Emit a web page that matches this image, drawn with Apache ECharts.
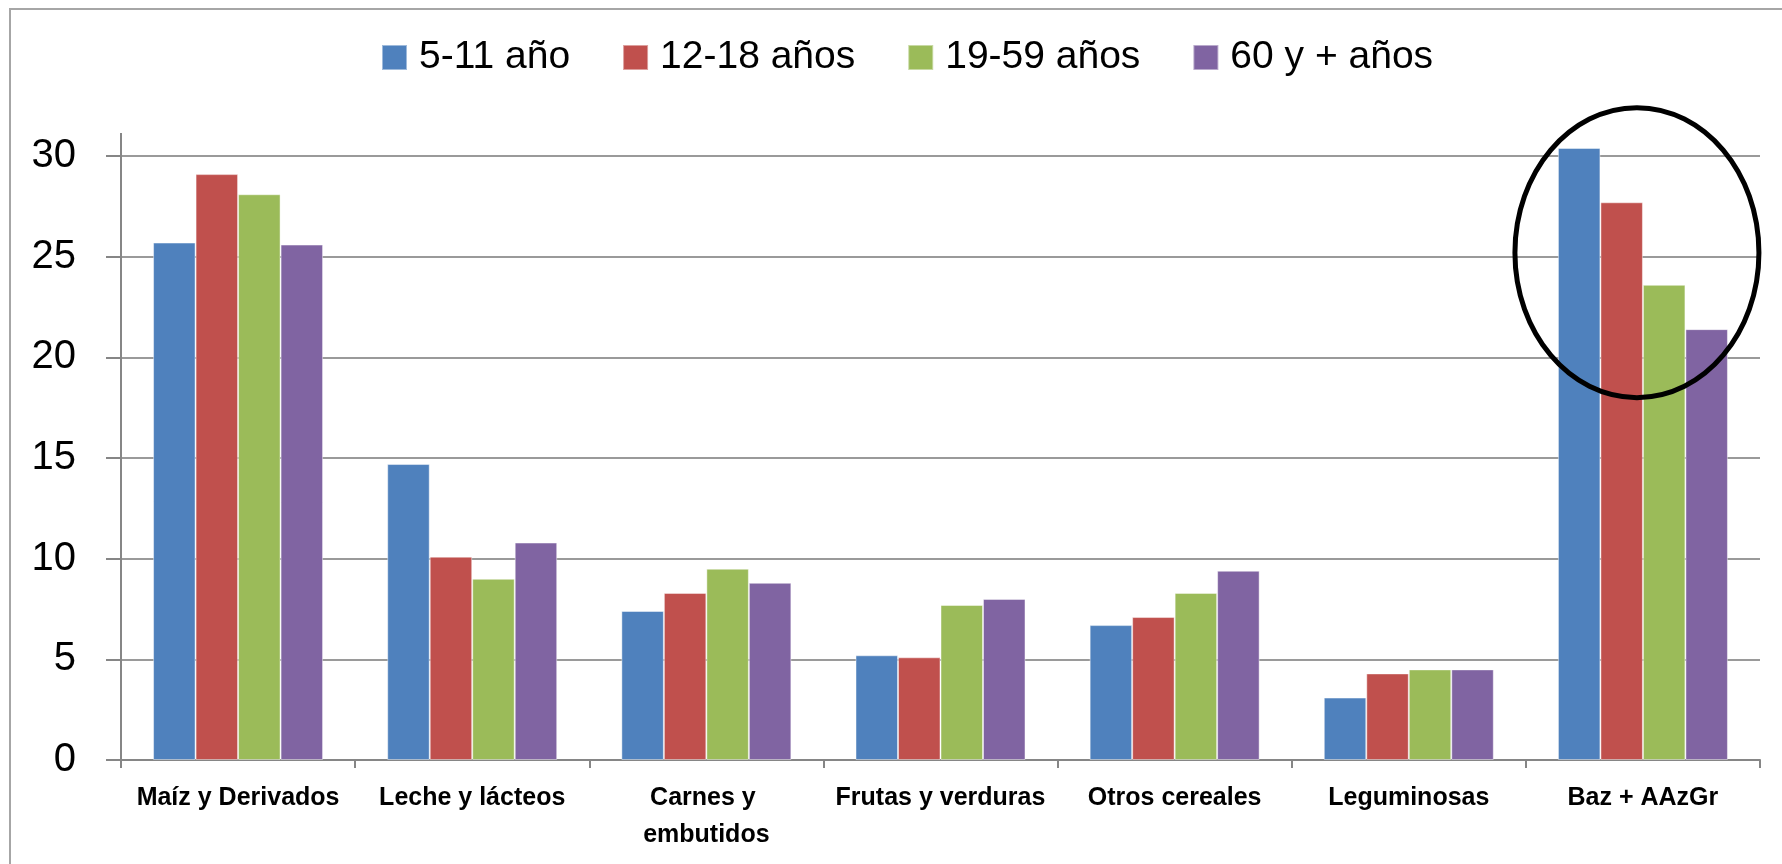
<!DOCTYPE html>
<html>
<head>
<meta charset="utf-8">
<script src="https://cdn.jsdelivr.net/npm/echarts@6/dist/echarts.min.js"></script>
<style>
	html,body{margin:0;padding:0;background:#fff;}
	#grupos_chart{width:1782px;height:864px;}
</style>
</head>
<body>
<div id="grupos_chart"></div>
<script>
var categorias = ['Maíz y Derivados', 'Leche y lácteos', 'Carnes y embutidos', 'Frutas y verduras', 'Otros cereales', 'Leguminosas', 'Baz + AAzGr'];
var grupos = ['5-11 año', '12-18 años', '19-59 años', '60 y + años'];
var edad5a11 = [25.7, 14.7, 7.4, 5.2, 6.7, 3.1, 30.4];
var edad12a18 = [29.1, 10.1, 8.3, 5.1, 7.1, 4.3, 27.7];
var edad19a59 = [28.1, 9.0, 9.5, 7.7, 8.3, 4.5, 23.6];
var edad60 = [25.6, 10.8, 8.8, 8.0, 9.4, 4.5, 21.4];
var ticksY = [0, 5, 10, 15, 20, 25, 30];

var colores = ['#4F81BD', '#C0504D', '#9BBB59', '#8064A2'];
var gris = '#868686';
var fuente = '"Liberation Sans", Arial, sans-serif';
var gridLeft = 121;

var myChart = echarts.init(document.getElementById('grupos_chart'));

function serie(nombre, datos, color){
	return {
		name: nombre,
		type: 'bar',
		data: datos,
		clip: false,
		barGap: '0%',
		barCategoryGap: '27.4%',
		itemStyle: {
			color: color,
			borderColor: 'rgba(255,255,255,0.45)',
			borderWidth: 1
		}
	};
}

var option = {
	animation: false,
	backgroundColor: '#fff',
	textStyle: { fontFamily: fuente },
	legend: {
		data: grupos,
		left: 381,
		top: 38,
		padding: 0,
		icon: 'rect',
		itemWidth: 25,
		itemHeight: 25,
		itemGap: 52,
		textStyle: {
			fontFamily: fuente,
			fontSize: 39,
			color: '#000',
			padding: [0, 0, 0, 7]
		}
	},
	grid: {
		left: gridLeft,
		right: 22,
		top: 156,
		bottom: 104
	},
	xAxis: {
		type: 'category',
		data: categorias,
		axisLine: { lineStyle: { color: gris, width: 2 } },
		axisTick: {
			show: true,
			interval: 0,
			length: 8,
			lineStyle: { color: gris, width: 2 }
		},
		axisLabel: {
			interval: 0,
			margin: 20,
			color: '#000',
			fontFamily: fuente,
			fontSize: 25,
			fontWeight: 'bold',
			lineHeight: 37,
			width: 232,
			overflow: 'break'
		}
	},
	yAxis: {
		type: 'value',
		min: ticksY[0],
		max: ticksY[ticksY.length - 1],
		interval: 5,
		axisLine: { show: true, lineStyle: { color: gris, width: 2 } },
		axisTick: { show: true, length: 15, lineStyle: { color: gris, width: 2 } },
		axisLabel: {
			margin: 45,
			color: '#000',
			fontFamily: fuente,
			fontSize: 40
		},
		splitLine: { lineStyle: { color: '#9a9a9a', width: 2 } }
	},
	series: [
		serie(grupos[0], edad5a11, colores[0]),
		serie(grupos[1], edad12a18, colores[1]),
		serie(grupos[2], edad19a59, colores[2]),
		serie(grupos[3], edad60, colores[3])
	]
};
myChart.setOption(option);

// marco, prolongacion del eje y elipse sobre el ultimo grupo
var y30 = myChart.convertToPixel({ yAxisIndex: 0 }, 30);
var centro = myChart.convertToPixel({ seriesIndex: 0 }, [categorias[6], 25.2]);
myChart.setOption({
	graphic: [
		{
			type: 'rect',
			shape: { x: 10, y: 9, width: 1800, height: 900 },
			style: { fill: 'none', stroke: '#a6a6a6', lineWidth: 2 },
			silent: true
		},
		{
			type: 'line',
			shape: { x1: gridLeft, y1: y30, x2: gridLeft, y2: 133 },
			style: { stroke: gris, lineWidth: 2 },
			silent: true
		},
		{
			type: 'ellipse',
			shape: { cx: centro[0] - 6, cy: centro[1], rx: 122, ry: 145 },
			style: { fill: 'none', stroke: '#000', lineWidth: 5 },
			z: 100,
			silent: true
		}
	]
});
</script>
</body>
</html>
